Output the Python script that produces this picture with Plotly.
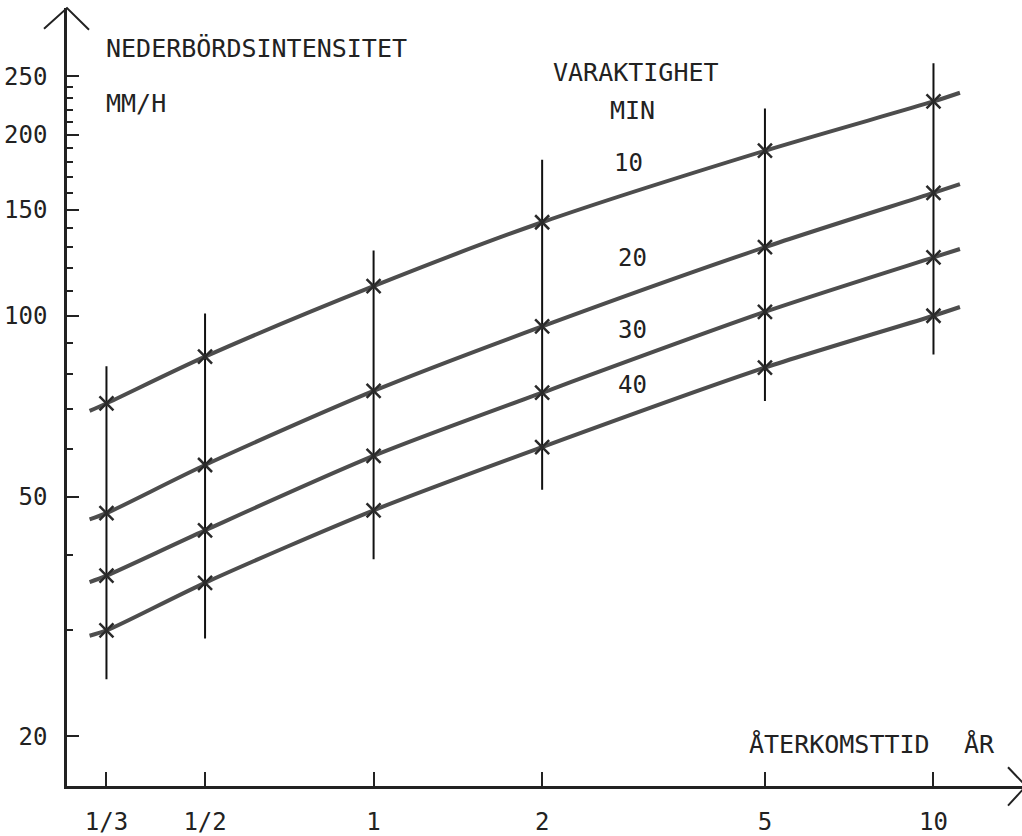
import numpy as np
import plotly.graph_objects as go

# Return periods (years) and their axis labels
periods = [1/3, 1/2, 1, 2, 5, 10]
period_labels = ["1/3", "1/2", "1", "2", "5", "10"]

# Rainfall intensity (mm/h) at each return period, per duration (min)
durations = ["10", "20", "30", "40"]
int_10 = [71.5, 85.5, 112, 143, 188, 227]
int_20 = [47, 56.5, 75, 96, 130, 160]
int_30 = [37, 44, 58.5, 74.5, 101.5, 125]
int_40 = [30, 36, 47.5, 60.5, 82, 100]

# Curves are drawn a little past the first and last return period
curve_x_start, curve_x_end = 0.311, 11.15
curve_start = [69.5, 45.9, 36.1, 29.4]
curve_end = [234.7, 165.5, 129.1, 103.4]

# Spread of intensities at each return period (vertical bars)
spread_low = [24.9, 29.1, 39.4, 51.4, 72.2, 86.2]
spread_high = [82.4, 100.9, 128.4, 181.7, 220.9, 262.7]

# Y axis ticks
y_major = [20, 50, 100, 150, 200, 250]
y_minor = [v for v in range(20, 251, 10) if v not in y_major]

FONT = "DejaVu Sans Mono"
FSIZE = 24      # numbers
TSIZE = 25      # spaced-out typewriter headings
INK = "#222222"
CURVE = "#4d4d4d"

W, H = 1022, 836
ML, MR, MT, MB = 67, 0, 8, 38
PW, PH = W - ML - MR, H - MT - MB


def paper(px, py):
    return (px - ML) / PW, (H - MB - py) / PH


fig = go.Figure()

# vertical spread bars
for p, lo, hi in zip(periods, spread_low, spread_high):
    fig.add_trace(go.Scatter(
        x=[p, p], y=[lo, hi], mode="lines",
        line=dict(color="#111111", width=2), hoverinfo="skip", showlegend=False))

all_series = [int_10, int_20, int_30, int_40]
for vals, y0, y1 in zip(all_series, curve_start, curve_end):
    fig.add_trace(go.Scatter(
        x=[curve_x_start] + periods + [curve_x_end],
        y=[y0] + vals + [y1],
        mode="lines", line=dict(color=CURVE, width=4, shape="spline", smoothing=0.8),
        hoverinfo="skip", showlegend=False))
    fig.add_trace(go.Scatter(
        x=periods, y=vals, mode="markers",
        marker=dict(symbol="x-thin", size=14, line=dict(color="#2a2a2a", width=2.5)),
        hoverinfo="skip", showlegend=False))

annotations = []


def label(text, px, py, anchor="center", size=FSIZE):
    x, y = paper(px, py)
    annotations.append(dict(
        text=text, x=x, y=y, xref="paper", yref="paper", showarrow=False,
        xanchor=anchor, yanchor="middle", font=dict(family=FONT, size=size, color=INK)))


label("NEDERBÖRDSINTENSITET", 104, 49, "left", TSIZE)
label("MM/H", 104, 105, "left", TSIZE)
label("VARAKTIGHET", 636, 73, size=TSIZE)
label("MIN", 632, 112, size=TSIZE)
for d, (px, py) in zip(durations, [(628, 165), (632, 262), (632, 335), (632, 391)]):
    label(d, px, py)
label("ÅTERKOMSTTID", 747, 756, "left", TSIZE)
label("ÅR", 962, 756, "left", TSIZE)

# axis arrowheads
def path(points):
    pts = [paper(*p) for p in points]
    return "M " + " L ".join(f"{x:.5f},{y:.5f}" for x, y in pts)


shapes = [
    dict(type="path", xref="paper", yref="paper", path=path([(44, 29), (67, 8), (89, 30)]),
         line=dict(color=INK, width=2)),
    dict(type="path", xref="paper", yref="paper", path=path([(1008, 779), (1026, 798), (1008, 818)]),
         line=dict(color=INK, width=2)),
]

fig.update_layout(
    width=W, height=H, margin=dict(l=ML, r=MR, t=MT, b=MB),
    paper_bgcolor="white", plot_bgcolor="white",
    annotations=annotations, shapes=shapes,
    xaxis=dict(
        type="log", range=[-0.5476, 1.1581],
        tickmode="array", tickvals=periods, ticktext=period_labels,
        ticks="inside", ticklen=14, tickwidth=2, tickcolor=INK,
        showline=True, linecolor=INK, linewidth=2.5, showgrid=False, zeroline=False,
        tickfont=dict(family=FONT, size=FSIZE, color=INK), ticklabelstandoff=12),
    yaxis=dict(
        type="log", range=[1.21875, 2.51129],
        tickmode="array", tickvals=y_major, ticktext=[str(v) for v in y_major],
        ticks="inside", ticklen=12, tickwidth=2, tickcolor=INK,
        minor=dict(tickmode="array", tickvals=y_minor, ticks="inside", ticklen=6,
                   tickwidth=2, tickcolor=INK, showgrid=False),
        showline=True, linecolor=INK, linewidth=2.5, showgrid=False, zeroline=False,
        tickfont=dict(family=FONT, size=FSIZE, color=INK), ticklabelstandoff=12),
)

fig.write_html("out.html")
